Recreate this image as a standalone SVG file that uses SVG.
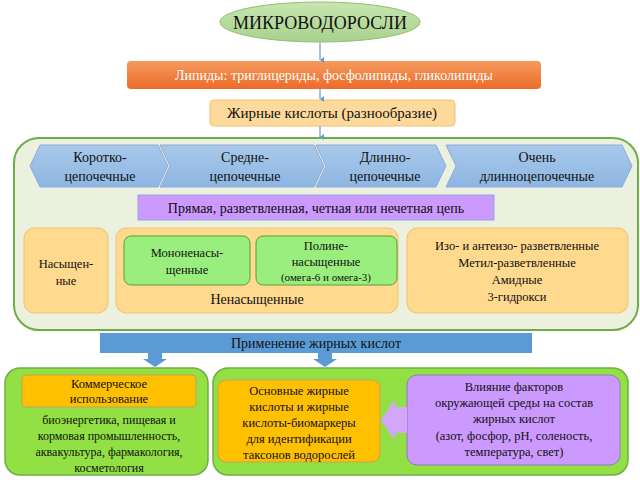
<svg xmlns="http://www.w3.org/2000/svg" width="640" height="480" viewBox="0 0 640 480" font-family="'Liberation Serif', 'Times New Roman', serif">
<style>
text{font-family:"Liberation Serif","DejaVu Serif",serif;fill:#111;text-anchor:middle}
.t{font-size:14px}.s{font-size:12.5px}
.hex{fill:url(#gb);stroke:#8faadc;stroke-width:1}
.lo{fill:#fed98e;stroke:#f4c26b}
.gi{fill:#99ee7e;stroke:#5f9b3a}
.lg{fill:#92e043;stroke:#70ad47;stroke-width:1.5}
.or{fill:#ffc000;stroke:#c9a15a}
.pu{fill:#cc99ff;stroke:#8e7cc3}
.ar{stroke:#5b9bd5;stroke-width:1.2;fill:none}
</style>
<defs>
<linearGradient id="gb" x1="0" y1="0" x2="0" y2="1"><stop offset="0" stop-color="#a9c8ea"/><stop offset="1" stop-color="#8db6e2"/></linearGradient>
<linearGradient id="ge" x1="0" y1="0" x2="0" y2="1"><stop offset="0" stop-color="#c7e6b0"/><stop offset="1" stop-color="#a9d18e"/></linearGradient>
<linearGradient id="go" x1="0" y1="0" x2="0" y2="1"><stop offset="0" stop-color="#f59a5c"/><stop offset="1" stop-color="#ec6b2a"/></linearGradient>
<marker id="m" markerWidth="6" markerHeight="6" refX="3" refY="5" orient="auto" markerUnits="userSpaceOnUse"><path d="M0,1 L3,5 L6,1 Z" fill="#5b9bd5"/></marker>
</defs>
<g id="n-micro"><ellipse cx="320" cy="22" rx="100" ry="20" fill="url(#ge)" stroke="#8fbf6f"/><text x="320" y="29" font-size="18">МИКРОВОДОРОСЛИ</text></g>
<g id="n-lipids"><rect x="127" y="61" width="414" height="28" rx="4" fill="url(#go)"/><text x="334" y="80" class="t" style="fill:#fff">Липиды: триглицериды, фосфолипиды, гликолипиды</text></g>
<g id="n-fa"><rect x="210" y="100" width="245" height="26" rx="4" fill="#fdd99b" stroke="#f4c26b"/><text x="332" y="118" font-size="15">Жирные кислоты (разнообразие)</text></g>
<g id="n-main"><rect x="14" y="138" width="624" height="192" rx="25" fill="#ebf1de" stroke="#70ad47" stroke-width="2"/></g>
<g id="n-short"><path class="hex" d="M30,166 L40,145 L158,145 L168,166 L158,187 L40,187 Z"/><text x="100" y="162" class="t">Коротко-</text><text x="100" y="181" class="t">цепочечные</text></g>
<g id="n-mid"><path class="hex" d="M160,145 L314,145 L324,166 L314,187 L160,187 L170,166 Z"/><text x="245" y="162" class="t">Средне-</text><text x="245" y="181" class="t">цепочечные</text></g>
<g id="n-long"><path class="hex" d="M316,145 L436,145 L446,166 L436,187 L316,187 L326,166 Z"/><text x="385" y="162" class="t">Длинно-</text><text x="385" y="181" class="t">цепочечные</text></g>
<g id="n-vlong"><path class="hex" d="M446,145 L622,145 L632,166 L622,187 L446,187 L456,166 Z"/><text x="537" y="162" class="t">Очень</text><text x="537" y="181" class="t">длинноцепочечные</text></g>
<g id="n-chain"><rect x="138" y="195" width="356" height="25" fill="#cc99ff" stroke="#8faadc"/><text x="316" y="213" class="t">Прямая, разветвленная, четная или нечетная цепь</text></g>
<g id="n-sat"><rect class="lo" x="24" y="228" width="84" height="85" rx="10"/><text x="66" y="268" class="s">Насыщен-</text><text x="66" y="285" class="s">ные</text></g>
<g id="n-unsat"><rect class="lo" x="116" y="228" width="282" height="85" rx="10"/><text x="257" y="304" class="t">Ненасыщенные</text></g>
<g id="n-mono"><rect class="gi" x="124" y="236" width="126" height="49" rx="7"/><text x="187" y="257" class="s">Мононенасы-</text><text x="187" y="274" class="s">щенные</text></g>
<g id="n-poly"><rect class="gi" x="256" y="236" width="141" height="49" rx="7"/><text x="326" y="250" class="s">Полине-</text><text x="326" y="266" class="s">насыщенные</text><text x="326" y="281" font-size="11">(омега-6 и омега-3)</text></g>
<g id="n-iso"><rect class="lo" x="407" y="228" width="221" height="85" rx="10"/><text x="517" y="250" class="s">Изо- и антеизо- разветвленные</text><text x="517" y="267" class="s">Метил-разветвленные</text><text x="517" y="284" class="s">Амидные</text><text x="517" y="301" class="s">3-гидрокси</text></g>
<g id="n-app"><rect x="100" y="333" width="432" height="20" fill="#5b9bd5"/><text x="316" y="348" class="t">Применение жирных кислот</text></g>
<g id="n-left"><rect class="lg" x="5" y="368" width="203" height="107" rx="15"/><rect class="or" x="22" y="375" width="174" height="32" rx="4"/><text x="109" y="388" class="s">Коммерческое</text><text x="109" y="403" class="s">использование</text><text x="109" y="424" font-size="12">биоэнергетика, пищевая и</text><text x="109" y="440" font-size="12">кормовая промышленность,</text><text x="109" y="456" font-size="12">аквакультура, фармакология,</text><text x="109" y="472" font-size="12">косметология</text></g>
<g id="n-right"><rect class="lg" x="213" y="368" width="415" height="107" rx="15"/></g>
<g id="n-bio"><rect class="or" x="218" y="380" width="162" height="82" rx="8"/><text x="299" y="395" class="s">Основные жирные</text><text x="299" y="411" class="s">кислоты и жирные</text><text x="299" y="427" class="s">кислоты-биомаркеры</text><text x="299" y="443" class="s">для идентификации</text><text x="299" y="459" class="s">таксонов водорослей</text></g>
<g id="n-env"><rect class="pu" x="407" y="375" width="213" height="90" rx="10"/><text x="514" y="391" class="s">Влияние факторов</text><text x="514" y="407" class="s">окружающей среды на состав</text><text x="514" y="423" class="s">жирных кислот</text><text x="514" y="440" class="s">(азот, фосфор, pH, соленость,</text><text x="514" y="456" class="s">температура, свет)</text></g>
<g id="connectors">
<line class="ar" x1="320" y1="43" x2="320" y2="60" marker-end="url(#m)"/>
<line class="ar" x1="320" y1="89" x2="320" y2="99" marker-end="url(#m)"/>
<line class="ar" x1="320" y1="126" x2="320" y2="137" marker-end="url(#m)"/>
<path d="M148,353 h14 v6 h5 l-12,8 l-12,-8 h5 Z" fill="#5b9bd5"/>
<path d="M318,353 h14 v6 h5 l-12,8 l-12,-8 h5 Z" fill="#5b9bd5"/>
<path d="M407,407 v26 h-12 v8 l-14,-21 l14,-21 v8 Z" fill="#d4a6f7"/>
</g>
</svg>
